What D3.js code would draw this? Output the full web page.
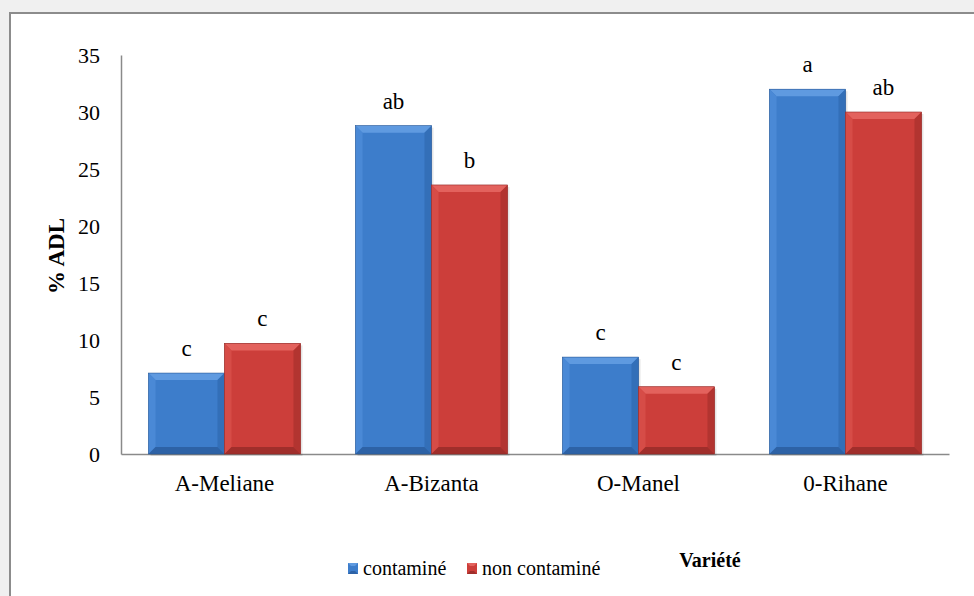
<!DOCTYPE html>
<html>
<head>
<meta charset="utf-8">
<script src="https://cdn.jsdelivr.net/npm/d3@7"></script>
<style>
  html, body { margin: 0; padding: 0; background: #f0f0f0; }
  svg, svg text { font-family: "Liberation Serif", "Times New Roman", Times, "DejaVu Serif", serif !important; }
</style>
</head>
<body>
<div id="chart"></div>
<script>
var width = 974, height = 596
var margin = {left: 121, right: 25, top: 55, bottom: 142}

// data
var varietes = ["A-Meliane", "A-Bizanta", "O-Manel", "0-Rihane"]
var series = ["contaminé", "non contaminé"]
var contamine = [7.1, 28.8, 8.5, 32.0]
var nonContamine = [9.7, 23.6, 5.9, 30.0]
var lettresContamine = ["c", "ab", "c", "a"]
var lettresNonContamine = ["c", "b", "c", "ab"]
var yTicks = [0, 5, 10, 15, 20, 25, 30, 35]

var colors = {
    "contaminé": {main: "#3d7dcb", top: "#5f9ae0", left: "#4a89d6", right: "#336fb8", bottom: "#2d62a6", edge: "#2a5a98"},
    "non contaminé": {main: "#cc3e3a", top: "#e3625d", left: "#d64c47", right: "#b23430", bottom: "#a02e2b", edge: "#922a27"}
}

var rows = varietes.map(function(v, i) {
    return {variete: v, values: [
        {serie: series[0], value: contamine[i], lettre: lettresContamine[i]},
        {serie: series[1], value: nonContamine[i], lettre: lettresNonContamine[i]}
    ]}
})

var svg = d3.select("#chart").append("svg")
    .attr("width", width)
    .attr("height", height)

// outer frame
svg.append("rect")
    .attr("x", 10).attr("y", 13)
    .attr("width", width + 10).attr("height", height + 10)
    .attr("fill", "#ffffff")
    .attr("stroke", "#8c8c8c")
    .attr("stroke-width", 2)

var xScale = d3.scaleBand()
    .domain(varietes)
    .range([margin.left, margin.left + 4 * 207])
    .paddingInner(0.266)
    .paddingOuter(0.133)

var x1 = d3.scaleBand()
    .domain(series)
    .range([0, xScale.bandwidth()])

var yScale = d3.scaleLinear()
    .domain([0, 35])
    .range([454, margin.top])

// axes
var yAxis = d3.axisLeft(yScale).tickValues(yTicks).tickSize(0).tickPadding(21)
var gy = svg.append("g")
    .attr("transform", "translate(" + margin.left + ",0)")
    .call(yAxis)
    .attr("font-family", null)
gy.select(".domain").attr("stroke", "#8a8a8a").attr("stroke-width", 1.5)
gy.selectAll("text").attr("font-size", 22).attr("fill", "#000")

var xAxis = d3.axisBottom(xScale).tickSize(0).tickPadding(21)
var gx = svg.append("g")
    .attr("transform", "translate(0," + yScale(0) + ")")
    .call(xAxis)
    .attr("font-family", null)
gx.select(".domain").attr("stroke", "#8a8a8a").attr("stroke-width", 1.5)
gx.selectAll("text").attr("font-size", 23).attr("fill", "#000")

// y label
svg.append("text")
    .attr("transform", "translate(64,256)rotate(-90)")
    .attr("text-anchor", "middle")
    .attr("font-size", 23)
    .attr("font-weight", "bold")
    .text("% ADL")

// bevel bars
function bevelBar(g, x, y, w, h, c) {
    var b = Math.min(7, h / 2)
    g.append("rect").attr("x", x + 2).attr("y", y + 2).attr("width", w).attr("height", h)
        .attr("fill", "#000").attr("opacity", 0.1)
    g.append("rect").attr("x", x).attr("y", y).attr("width", w).attr("height", h).attr("fill", c.main)
    var pts = function(a) { return a.map(function(p) { return p.join(",") }).join(" ") }
    g.append("polygon").attr("points", pts([[x, y], [x + w, y], [x + w - b, y + b], [x + b, y + b]])).attr("fill", c.top)
    g.append("polygon").attr("points", pts([[x, y], [x + b, y + b], [x + b, y + h - b], [x, y + h]])).attr("fill", c.left)
    g.append("polygon").attr("points", pts([[x + w, y], [x + w, y + h], [x + w - b, y + h - b], [x + w - b, y + b]])).attr("fill", c.right)
    g.append("polygon").attr("points", pts([[x, y + h], [x + w, y + h], [x + w - b, y + h - b], [x + b, y + h - b]])).attr("fill", c.bottom)
    g.append("rect").attr("x", x).attr("y", y).attr("width", w).attr("height", h)
        .attr("fill", "none").attr("stroke", c.edge).attr("stroke-width", 0.6)
}

var groups = svg.selectAll(".grp").data(rows).enter().append("g")
    .attr("class", "grp")
    .attr("transform", function(d) { return "translate(" + xScale(d.variete) + ",0)" })

groups.each(function(d) {
    var g = d3.select(this)
    d.values.forEach(function(v) {
        var x = x1(v.serie), y = yScale(v.value)
        bevelBar(g, x, y, x1.bandwidth(), yScale(0) - y, colors[v.serie])
        g.append("text")
            .attr("x", x + x1.bandwidth() / 2)
            .attr("y", y - 17)
            .attr("text-anchor", "middle")
            .attr("font-size", 23)
            .text(v.lettre)
    })
})

// legend
var legend = svg.append("g")
var legendX = [348, 467]
series.forEach(function(s, i) {
    var c = colors[s]
    var lg = legend.append("g").attr("transform", "translate(" + legendX[i] + ",563)")
    lg.append("rect").attr("width", 10).attr("height", 11).attr("fill", c.main)
    lg.append("polygon").attr("points", "0,0 10,0 7,3 3,3").attr("fill", c.top)
    lg.append("polygon").attr("points", "0,11 10,11 7,8 3,8").attr("fill", c.bottom)
    lg.append("text").attr("x", 15).attr("y", 12).attr("font-size", 20).text(s)
})

svg.append("text")
    .attr("x", 710).attr("y", 567)
    .attr("text-anchor", "middle")
    .attr("font-size", 20)
    .attr("font-weight", "bold")
    .text("Variété")
</script>
</body>
</html>
